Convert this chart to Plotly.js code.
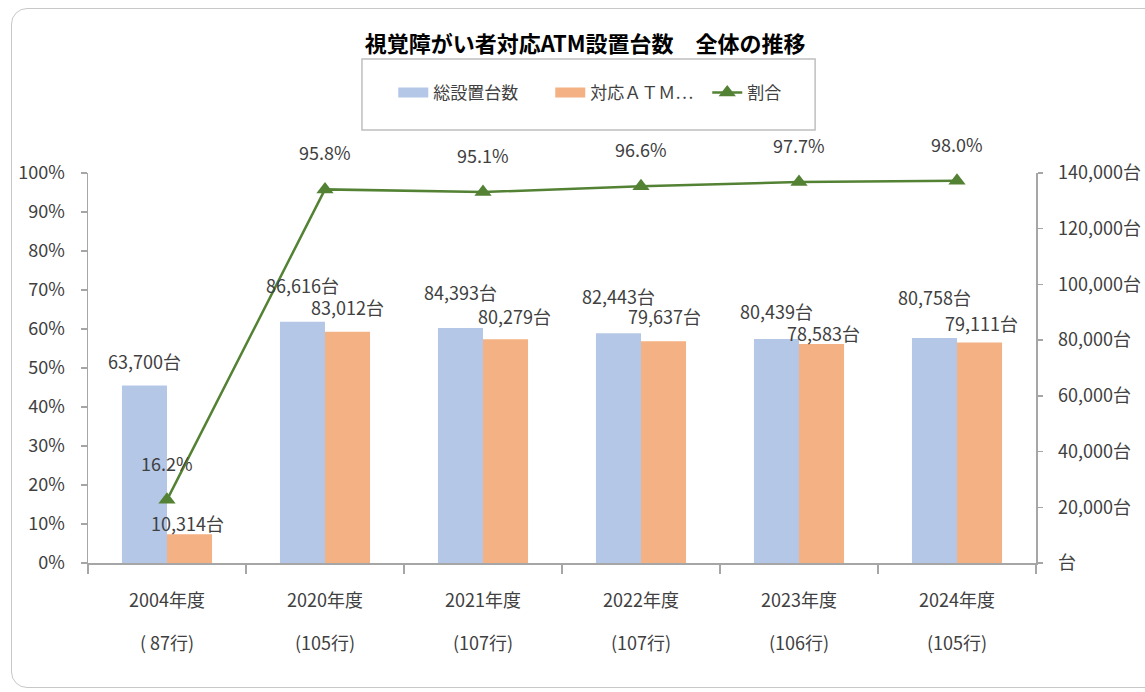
<!DOCTYPE html>
<html><head><meta charset="utf-8">
<script src="https://cdn.plot.ly/plotly-3.0.1.min.js"></script>
<style>
html,body{margin:0;padding:0;background:#fff;overflow:hidden}
#chart{width:1145px;height:692px}
#frame{position:absolute;left:11px;top:8px;width:1170px;height:680px;border:1.5px solid #c8c8c8;border-radius:16px;pointer-events:none;box-sizing:border-box}
</style></head><body>
<div id="chart"></div><div id="frame"></div>
<script>
// ---- data ----
const years = ['2004年度','2020年度','2021年度','2022年度','2023年度','2024年度'];
const banks = ['( 87行)','(105行)','(107行)','(107行)','(106行)','(105行)'];
const totalUnits = [63700, 86616, 84393, 82443, 80439, 80758];
const accessibleUnits = [10314, 83012, 80279, 79637, 78583, 79111];
const ratioPct = [16.2, 95.8, 95.1, 96.6, 97.7, 98.0];
const unitTicks = [0, 20000, 40000, 60000, 80000, 100000, 120000, 140000];
const pctTicks = [0, 10, 20, 30, 40, 50, 60, 70, 80, 90, 100];
const seriesNames = ['総設置台数', '対応ＡＴＭ…', '割合'];

// ---- label placement (pixels) ----
const totalLabelLift = [25, 37, 36, 37, 28, 41];
const accLabelLift = [11, 25, 23, 25, 11, 20];
const accLabelNudge = [-2, 0, 9, 1, 2, 2];
const halfBar = 22.5;

const txt = '#404040';
const axisCol = '#a6a6a6';
const blue = '#b4c7e7', orange = '#f4b183', green = '#548235';
const fam = '"Noto Sans CJK JP", "Noto Sans", sans-serif';

const fmt = v => v.toLocaleString('en-US');

const traces = [
  {type:'bar', name:seriesNames[0], x:years, y:totalUnits, yaxis:'y',
   marker:{color:blue}, hoverinfo:'none', showlegend:false, legendgroup:'a'},
  {type:'bar', name:seriesNames[1], x:years, y:accessibleUnits, yaxis:'y',
   marker:{color:orange}, hoverinfo:'none', showlegend:false, legendgroup:'b'},
  {type:'scatter', mode:'lines+markers', name:seriesNames[2], x:years, y:ratioPct, yaxis:'y2',
   line:{color:green, width:2.5},
   marker:{symbol:'triangle-up', size:15, color:green}, hoverinfo:'none', legendrank:3},
  // legend keys drawn as wide swatches (no data)
  {type:'scatter', mode:'lines', name:seriesNames[0], x:[null], y:[null], yaxis:'y',
   line:{color:blue, width:12}, hoverinfo:'none', legendgroup:'a', legendrank:1},
  {type:'scatter', mode:'lines', name:seriesNames[1], x:[null], y:[null], yaxis:'y',
   line:{color:orange, width:12}, hoverinfo:'none', legendgroup:'b', legendrank:2}
];

const annotations = [];
years.forEach((yr, i) => {
  annotations.push({x:yr, xref:'x', y:totalUnits[i], yref:'y', text:fmt(totalUnits[i])+'台',
    showarrow:false, xshift:-halfBar, yshift:totalLabelLift[i], yanchor:'middle', xanchor:'center',
    font:{size:18, color:txt, family:fam}});
  annotations.push({x:yr, xref:'x', y:accessibleUnits[i], yref:'y', text:fmt(accessibleUnits[i])+'台',
    showarrow:false, xshift:halfBar+accLabelNudge[i], yshift:accLabelLift[i], yanchor:'middle', xanchor:'center',
    font:{size:18, color:txt, family:fam}});
  annotations.push({x:yr, xref:'x', y:ratioPct[i], yref:'y2', text:ratioPct[i].toFixed(1)+'%',
    showarrow:false, yshift:37, yanchor:'middle', xanchor:'center',
    font:{size:18, color:txt, family:fam}});
  annotations.push({x:yr, xref:'x', y:0, yref:'paper', text:banks[i],
    showarrow:false, yshift:-79, yanchor:'middle', xanchor:'center',
    font:{size:18, color:txt, family:fam}});
});

const layout = {
  width:1145, height:692,
  margin:{l:88, r:109, t:173, b:129},
  paper_bgcolor:'#fff', plot_bgcolor:'#fff',
  font:{family:fam, color:txt, size:18},
  title:{text:'<b>視覚障がい者対応ATM設置台数　全体の推移</b>', x:0.511, xanchor:'center', y:0.936, yanchor:'middle',
         font:{size:22, color:'#000', family:fam}},
  barmode:'group', bargap:0.43, bargroupgap:0,
  showlegend:true,
  legend:{orientation:'h', x:0.322, xanchor:'left', y:1.205, yanchor:'middle', entrywidth:112, entrywidthmode:'pixels',
          font:{size:17, color:txt, family:fam}, bgcolor:'rgba(0,0,0,0)', itemwidth:30, traceorder:'normal'},
  xaxis:{type:'category', showline:true, linecolor:axisCol, linewidth:1.5,
         ticks:'outside', tickson:'boundaries', ticklen:9, tickcolor:axisCol, tickwidth:1.5,
         tickfont:{size:18, color:txt}, ticklabelstandoff:21, showgrid:false, zeroline:false, fixedrange:true},
  yaxis:{side:'right', range:[0,140000], tickmode:'array', tickvals:unitTicks,
         ticktext:unitTicks.map(v => v === 0 ? '台' : fmt(v)+'台'),
         showline:true, linecolor:axisCol, linewidth:1.5, ticks:'outside', ticklen:5, tickcolor:axisCol, tickwidth:1.5,
         tickfont:{size:18, color:txt}, ticklabelstandoff:12, showgrid:false, zeroline:false, fixedrange:true},
  yaxis2:{side:'left', overlaying:'y', range:[0,100], tickmode:'array', tickvals:pctTicks,
          ticktext:pctTicks.map(v => v + '%'),
          showline:true, linecolor:axisCol, linewidth:1.5, ticks:'outside', ticklen:6, tickcolor:axisCol, tickwidth:1.5,
          tickfont:{size:18, color:txt}, ticklabelstandoff:12, showgrid:false, zeroline:false, fixedrange:true},
  shapes:[{type:'rect', xref:'paper', yref:'paper', x0:0.289, x1:0.767, y0:1.110, y1:1.292,
           line:{color:'#bfbfbf', width:1.5}, fillcolor:'rgba(0,0,0,0)'}],
  annotations:annotations
};

Plotly.newPlot('chart', traces, layout, {displayModeBar:false, staticPlot:true});
</script>
</body></html>
